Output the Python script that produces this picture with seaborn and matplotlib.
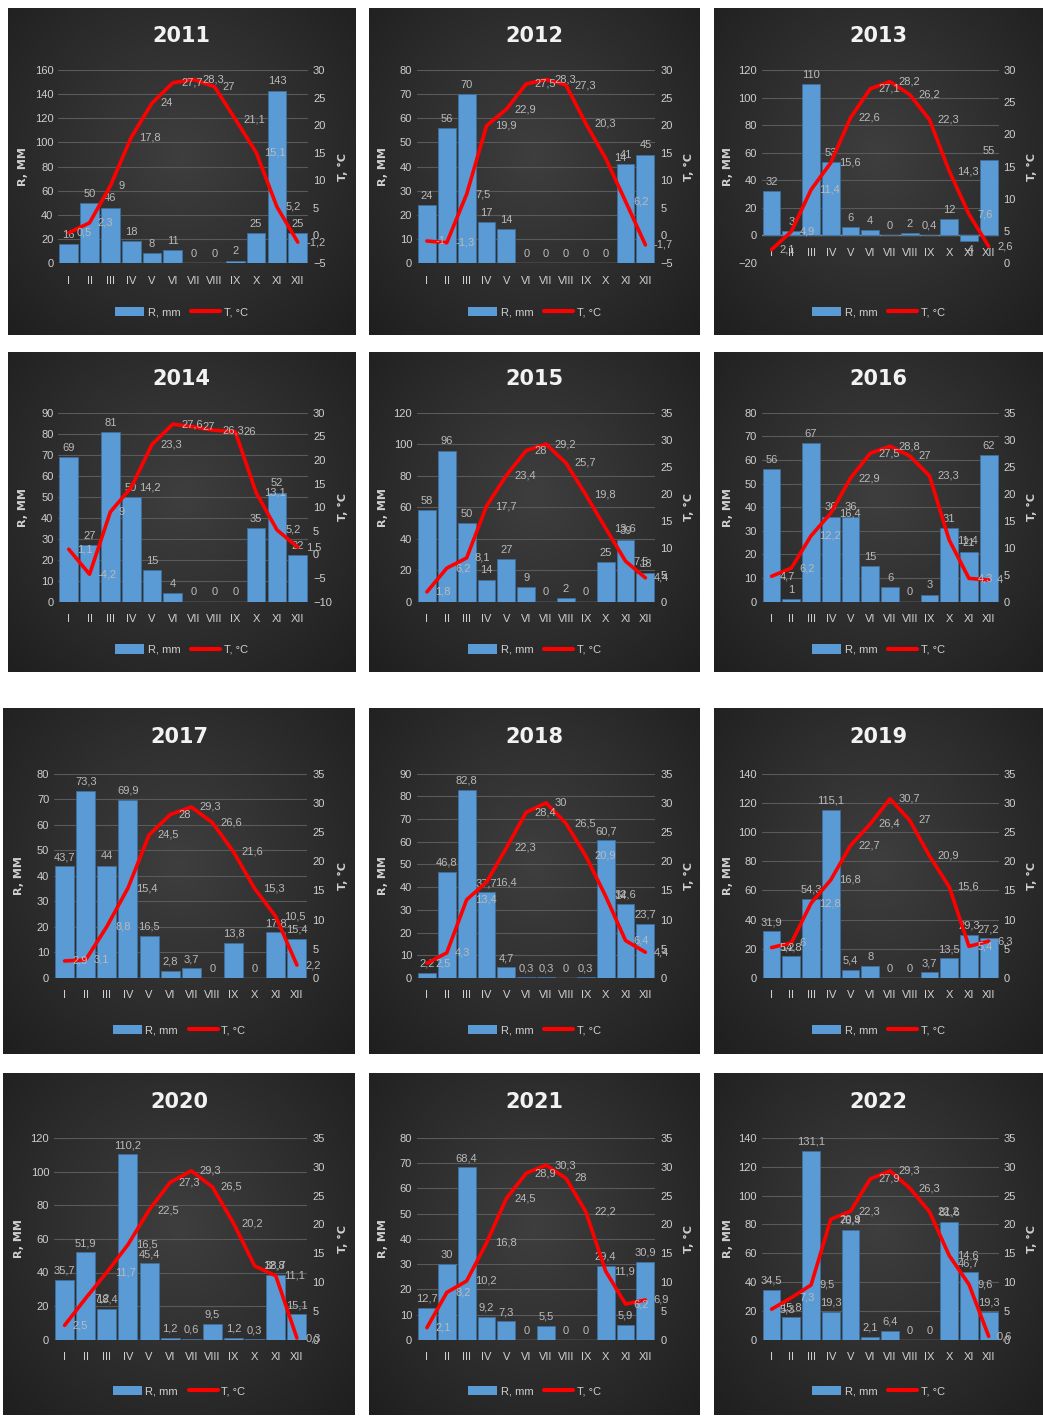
import numpy as np
import pandas as pd
import seaborn as sns
import matplotlib
matplotlib.use("Agg")
import matplotlib.pyplot as plt
from matplotlib.patches import Patch
from matplotlib.lines import Line2D

months = ["I", "II", "III", "IV", "V", "VI", "VII", "VIII", "IX", "X", "XI", "XII"]
years = [2011, 2012, 2013, 2014, 2015, 2016, 2017, 2018, 2019, 2020, 2021, 2022]

r_2011 = [16, 50, 46, 18, 8, 11, 0, 0, 2, 25, 143, 25]
t_2011 = [0.5, 2.3, 9, 17.8, 24, 27.7, 28.3, 27, 21.1, 15.1, 5.2, -1.2]
r_2012 = [24, 56, 70, 17, 14, 0, 0, 0, 0, 0, 41, 45]
t_2012 = [-1, -1.3, 7.5, 19.9, 22.9, 27.5, 28.3, 27.3, 20.3, 14, 6.2, -1.7]
r_2013 = [32, 3, 110, 53, 6, 4, 0, 2, 0.4, 12, -4, 55]
t_2013 = [2.1, 4.9, 11.4, 15.6, 22.6, 27.1, 28.2, 26.2, 22.3, 14.3, 7.6, 2.6]
r_2014 = [69, 27, 81, 50, 15, 4, 0, 0, 0, 35, 52, 22]
t_2014 = [1.1, -4.2, 9, 14.2, 23.3, 27.6, 27, 26.3, 26, 13.1, 5.2, 1.5]
r_2015 = [58, 96, 50, 14, 27, 9, 0, 2, 0, 25, 39, 18]
t_2015 = [1.8, 6.2, 8.1, 17.7, 23.4, 28, 29.2, 25.7, 19.8, 13.6, 7.5, 4.4]
r_2016 = [56, 1, 67, 36, 36, 15, 6, 0, 3, 31, 21, 62]
t_2016 = [4.7, 6.2, 12.2, 16.4, 22.9, 27.5, 28.8, 27, 23.3, 11.4, 4.3, 4]
r_2017 = [43.7, 73.3, 44, 69.9, 16.5, 2.8, 3.7, 0, 13.8, 0, 17.8, 15.4]
t_2017 = [2.9, 3.1, 8.8, 15.4, 24.5, 28, 29.3, 26.6, 21.6, 15.3, 10.5, 2.2]
r_2018 = [2.2, 46.8, 82.8, 37.7, 4.7, 0.3, 0.3, 0, 0.3, 60.7, 32.6, 23.7]
t_2018 = [2.5, 4.3, 13.4, 16.4, 22.3, 28.4, 30, 26.5, 20.9, 14, 6.4, 4.4]
r_2019 = [31.9, 14.8, 54.3, 115.1, 5.4, 8, 0, 0, 3.7, 13.5, 29.3, 27.2]
t_2019 = [5.2, 6, 12.8, 16.8, 22.7, 26.4, 30.7, 27, 20.9, 15.6, 5.4, 6.3]
r_2020 = [35.7, 51.9, 18.4, 110.2, 45.4, 1.2, 0.6, 9.5, 1.2, 0.3, 38.7, 15.1]
t_2020 = [2.5, 7.2, 11.7, 16.5, 22.5, 27.3, 29.3, 26.5, 20.2, 12.8, 11.1, 0.3]
r_2021 = [12.7, 30, 68.4, 9.2, 7.3, 0, 5.5, 0, 0, 29.4, 5.9, 30.9]
t_2021 = [2.1, 8.2, 10.2, 16.8, 24.5, 28.9, 30.3, 28, 22.2, 11.9, 6.2, 6.9]
r_2022 = [34.5, 15.8, 131.1, 19.3, 76.4, 2.1, 6.4, 0, 0, 81.6, 46.7, 19.3]
t_2022 = [5.3, 7.3, 9.5, 20.9, 22.3, 27.9, 29.3, 26.3, 22.2, 14.6, 9.6, 0.6]

rain = [r_2011, r_2012, r_2013, r_2014, r_2015, r_2016,
        r_2017, r_2018, r_2019, r_2020, r_2021, r_2022]
temp = [t_2011, t_2012, t_2013, t_2014, t_2015, t_2016,
        t_2017, t_2018, t_2019, t_2020, t_2021, t_2022]

# axis ranges (min, max, step)
r_axes = [(0, 160, 20), (0, 80, 10), (-20, 120, 20), (0, 90, 10), (0, 120, 20), (0, 80, 10),
          (0, 80, 10), (0, 90, 10), (0, 140, 20), (0, 120, 20), (0, 80, 10), (0, 140, 20)]
t_axes = [(-5, 30, 5), (-5, 30, 5), (0, 30, 5), (-10, 30, 5), (0, 35, 5), (0, 35, 5),
          (0, 35, 5), (0, 35, 5), (0, 35, 5), (0, 35, 5), (0, 35, 5), (0, 35, 5)]

sns.set_theme(style="dark")
plt.rcParams["font.family"] = ["Liberation Sans", "DejaVu Sans"]

W, H = 1043, 1417
fig = plt.figure(figsize=(W / 100, H / 100), dpi=100)
fig.patch.set_facecolor("white")

boxes = [(8, 8, 355, 335), (369, 8, 700, 335), (714, 8, 1043, 335),
         (8, 352, 355, 672), (369, 352, 700, 672), (714, 352, 1043, 672),
         (3, 708, 355, 1054), (369, 708, 700, 1054), (714, 708, 1043, 1054),
         (3, 1073, 355, 1415), (369, 1073, 700, 1415), (714, 1073, 1043, 1415)]

TXT = "#cfcfcf"
LBL = "#bababa"
BLUE = "#5b9bd5"
RED = "#ff0000"

# radial gradient background
gy, gx = np.mgrid[0:1:200j, 0:1:200j]
rr = np.sqrt(((gx - 0.5) / 0.5) ** 2 + ((gy - 0.45) / 0.55) ** 2) / np.sqrt(2)
rr = np.clip(rr, 0, 1)
c_in, c_out = 0.245, 0.12
shade = c_in * (1 - rr) + c_out * rr
grad = np.dstack([shade, shade, shade])


def fmt(v):
    s = f"{v:g}"
    return s.replace(".", ",")


for k, (x0, y0, x1, y1) in enumerate(boxes):
    pl = x0 / W
    pb = 1 - y1 / H
    pw = (x1 - x0) / W
    ph = (y1 - y0) / H

    bg = fig.add_axes([pl, pb, pw, ph], zorder=0)
    bg.imshow(grad, extent=[0, 1, 0, 1], aspect="auto", interpolation="bicubic")
    bg.set_axis_off()

    ax = fig.add_axes([pl + 0.145 * pw, pb + 0.22 * ph, 0.72 * pw, 0.59 * ph], zorder=1)
    ax.set_facecolor("none")

    df = pd.DataFrame({"month": months, "R": rain[k], "T": temp[k], "pos": np.arange(12)})
    sns.barplot(data=df, x="month", y="R", ax=ax, color=BLUE, saturation=1,
                width=0.9, edgecolor="#3f6f9c", linewidth=0.6, zorder=2)
    rmin, rmax, rstep = r_axes[k]
    ax.set_ylim(rmin, rmax)
    ax.set_yticks(np.arange(rmin, rmax + 0.01, rstep))
    ax.yaxis.grid(True, color="#5a5a5a", linewidth=0.8, zorder=0)
    ax.xaxis.grid(False)
    ax.set_axisbelow(True)
    ax.axhline(0, color="#8a8a8a", linewidth=1.0, zorder=1.5)
    for s in ax.spines.values():
        s.set_visible(False)
    ax.spines["bottom"].set_position(("data", 0))
    ax.tick_params(axis="both", colors=TXT, length=0, labelsize=8)
    ax.tick_params(axis="x", pad=9)
    ax.set_xlabel("")
    ax.set_ylabel("R, MM", color=TXT, fontsize=8, fontweight="bold", family=["DejaVu Sans"])
    ax.yaxis.set_label_coords(-0.12, 0.5)

    for i, v in enumerate(rain[k]):
        if v >= 0:
            ax.annotate(fmt(v), (i, v), xytext=(0, 3), textcoords="offset points",
                        ha="center", va="bottom", color=LBL, fontsize=8, zorder=5)
        else:
            ax.annotate(fmt(v), (i, v), xytext=(0, -3), textcoords="offset points",
                        ha="center", va="top", color=LBL, fontsize=8, zorder=5)

    ax2 = ax.twinx()
    ax2.set_facecolor("none")
    sns.lineplot(data=df, x="pos", y="T", ax=ax2, color=RED, linewidth=2.6,
                 legend=False, zorder=4)
    tmin, tmax, tstep = t_axes[k]
    ax2.set_ylim(tmin, tmax)
    ax2.set_yticks(np.arange(tmin, tmax + 0.01, tstep))
    ax2.grid(False)
    for s in ax2.spines.values():
        s.set_visible(False)
    ax2.tick_params(axis="y", colors=TXT, length=0, labelsize=8)
    ax2.set_xlabel("")
    ax2.set_ylabel("T, °C", color=TXT, fontsize=8, fontweight="bold", family=["DejaVu Sans"])
    ax2.yaxis.set_label_coords(1.12, 0.5)
    ax.set_xlim(-0.5, 11.5)

    for i, v in enumerate(temp[k]):
        ax2.annotate(fmt(v), (i, v), xytext=(6, 0), textcoords="offset points",
                     ha="left", va="center", color=LBL, fontsize=8, zorder=6)

    fig.text(pl + 0.5 * pw, pb + ph * (1 - 0.085), str(years[k]), ha="center", va="center",
             color="#f2f2f2", fontsize=15, fontweight="bold", family=["DejaVu Sans"])

    handles = [Patch(facecolor=BLUE, edgecolor="none"),
               Line2D([0], [0], color=RED, linewidth=3)]
    leg = ax.legend(handles, ["R, mm", "T, °C"], loc="center", ncol=2,
                    bbox_to_anchor=(pl + 0.5 * pw, pb + ph * 0.07),
                    bbox_transform=fig.transFigure, frameon=False, fontsize=8,
                    handlelength=2.6, handleheight=0.9, columnspacing=1.0, handletextpad=0.3)
    for t in leg.get_texts():
        t.set_color(TXT)

fig.savefig("out.png", dpi=100, facecolor="white")
